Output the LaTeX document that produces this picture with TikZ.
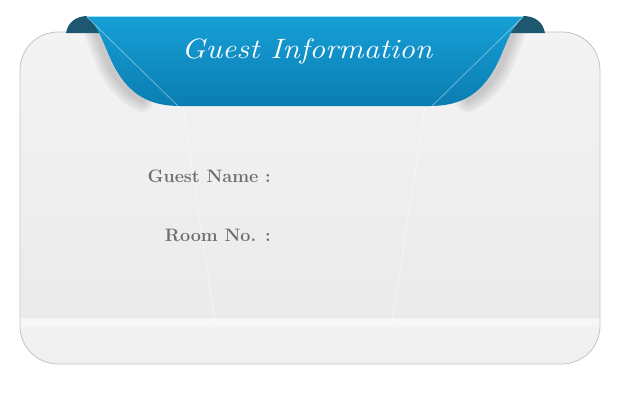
\documentclass[tikz,border=0pt]{standalone}
\usepackage{xcolor}
\usepackage{graphicx}
\usepackage{tikz}
\usetikzlibrary{positioning,calc}

\definecolor{ribbonTop}{HTML}{169FD6}
\definecolor{ribbonMid}{HTML}{12AEEA}
\definecolor{ribbonBot}{HTML}{0B7DB1}
\definecolor{curlDark}{HTML}{1D5870}
\definecolor{cardTop}{HTML}{F3F3F3}
\definecolor{cardBot}{HTML}{E9E9EA}
\definecolor{cardEdge}{HTML}{C4C4C4}
\definecolor{labelGray}{HTML}{6E6E6E}

\tikzset{
  label text/.style={text=labelGray, font=\fontsize{18}{21}\selectfont\bfseries, anchor=east, inner sep=0pt},
  glare/.style={white, line width=0.8pt, opacity=0.5},
  ribbon shadow/.style={black, opacity=0.045, line cap=round}
}

\begin{document}
\begin{tikzpicture}[x=1pt,y=-1pt]
    \useasboundingbox (0,0) rectangle (624,400);

    % Card
    \shade[top color=cardTop, bottom color=cardBot, rounded corners=38pt]
        (20,32) rectangle (600,364);
    \begin{scope}
        \clip[rounded corners=38pt] (20,32) rectangle (600,364);
        \fill[white, opacity=0.35] (20,318) rectangle (600,364);
        \fill[white, opacity=0.4] (20,318) rectangle (600,327);
        % shadow under the ribbon edges
        \foreach \w in {6,12,18,24} {
            \draw[ribbon shadow, line width=\w pt]
                (96,31) .. controls (102,46) and (106,58) .. (111,69)
                .. controls (120,84) and (130,94) .. (142,100);
            \draw[ribbon shadow, line width=\w pt]
                (514,31) .. controls (508,46) and (504,58) .. (499,69)
                .. controls (490,84) and (480,94) .. (468,100);
        }
    \end{scope}
    \draw[cardEdge, line width=0.8pt, rounded corners=38pt] (20,32) rectangle (600,364);

    % Glare lines on the card
    \draw[glare, opacity=0.45] (183,107) -- (215,322);
    \draw[glare, opacity=0.45] (425,107) -- (392,322);

    % Ribbon curls
    \fill[curlDark] (66,33) .. controls (68,22) and (76,16) .. (88,16) -- (101,33) -- cycle;
    \fill[curlDark] (545,33) .. controls (543,22) and (535,16) .. (523,16) -- (510,33) -- cycle;

    % Ribbon
    \shade[top color=ribbonTop, middle color=ribbonMid, bottom color=ribbonBot]
        (86,16) -- (524,16)
        .. controls (510,26) and (505,50) .. (495,68)
        .. controls (480,95) and (460,106) .. (430,106)
        -- (180,106)
        .. controls (150,106) and (130,95) .. (115,68)
        .. controls (105,50) and (100,26) .. (86,16) -- cycle;
    \draw[white!60!ribbonMid, line width=1pt] (87,16.5) -- (523,16.5);
    \draw[glare, opacity=0.4] (87,17) -- (178,106);
    \draw[glare, opacity=0.4] (523,17) -- (432,106);

    % Texts
    \node[white, font=\fontsize{28}{30}\selectfont\itshape] (title) at (307,51)
        {\scalebox{1.13}[1]{Guest Information}};
    \node[label text] (guestname) at (271,176) {Guest Name :};
    \node[label text] (roomno) at (271,235) {Room No. :};
\end{tikzpicture}
\end{document}
